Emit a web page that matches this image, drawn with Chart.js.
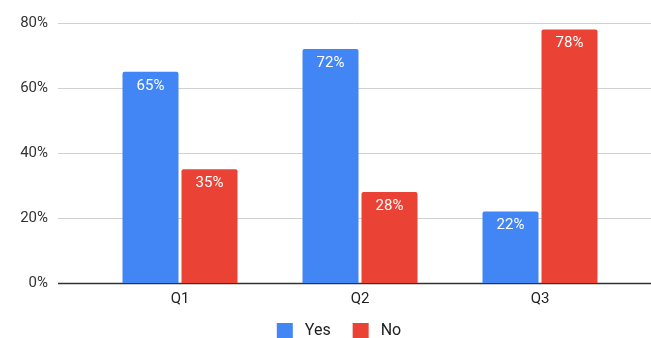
<!DOCTYPE html>
<html>
<head>
<meta charset="utf-8">
<script src="https://cdn.jsdelivr.net/npm/chart.js@4.4.0/dist/chart.umd.min.js"></script>
<style>
  body { margin: 0; background: #fff; }
</style>
</head>
<body>
<canvas id="myChart" width="651" height="338"></canvas>
<script>
'use strict';
const quarters = ['Q1', 'Q2', 'Q3'];
const yesValues = [65, 72, 22];
const noValues = [35, 28, 78];
const yTicks = [0, 20, 40, 60, 80];

// grid lines run wider than the bar area, so draw them by hand
const gridPlugin = {
    id: 'wideGrid',
    beforeDatasetsDraw(chart) {
        const ctx = chart.ctx;
        const y = chart.scales.y;
        ctx.save();
        yTicks.forEach(function (v) {
            const py = Math.round(y.getPixelForValue(v)) + 0.5;
            ctx.beginPath();
            ctx.strokeStyle = v === 0 ? '#333333' : '#d0d0d0';
            ctx.lineWidth = v === 0 ? 1.5 : 1;
            ctx.moveTo(58, py);
            ctx.lineTo(651, py);
            ctx.stroke();
        });
        ctx.restore();
    }
};

// white value labels near the top of each bar
const labelPlugin = {
    id: 'barLabels',
    afterDatasetsDraw(chart) {
        const ctx = chart.ctx;
        ctx.save();
        ctx.fillStyle = '#ffffff';
        ctx.font = '15px Roboto';
        ctx.textAlign = 'center';
        ctx.textBaseline = 'middle';
        chart.data.datasets.forEach(function (ds, i) {
            chart.getDatasetMeta(i).data.forEach(function (bar, j) {
                ctx.fillText(ds.data[j] + '%', bar.x, bar.y + 14);
            });
        });
        ctx.restore();
    }
};

// legend at the bottom, spaced like the sheets one
const legendPlugin = {
    id: 'bottomLegend',
    afterDraw(chart) {
        const ctx = chart.ctx;
        const box = 16, gap = 12, spacing = 22;
        ctx.save();
        ctx.font = '16px Roboto';
        ctx.textBaseline = 'middle';
        const items = chart.data.datasets.map(function (ds) {
            return { text: ds.label, color: ds.backgroundColor, w: ctx.measureText(ds.label).width };
        });
        let total = 0;
        items.forEach(function (it, i) {
            total += box + gap + it.w + (i > 0 ? spacing : 0);
        });
        let x = 339 - total / 2;
        const yMid = 331;
        items.forEach(function (it) {
            ctx.fillStyle = it.color;
            ctx.fillRect(x, yMid - box / 2, box, box);
            ctx.fillStyle = '#222222';
            ctx.fillText(it.text, x + box + gap, yMid);
            x += box + gap + it.w + spacing;
        });
        ctx.restore();
    }
};

const data = {
    labels: quarters,
    datasets: [{
        label: 'Yes',
        data: yesValues,
        backgroundColor: '#4285f4',
        borderRadius: { topLeft: 2, topRight: 2 },
        borderSkipped: 'bottom'
    }, {
        label: 'No',
        data: noValues,
        backgroundColor: '#ea4335',
        borderRadius: { topLeft: 2, topRight: 2 },
        borderSkipped: 'bottom'
    }]
};

const config = {
    type: 'bar',
    data: data,
    options: {
        responsive: false,
        animation: false,
        categoryPercentage: 118 / 180,
        barPercentage: 56 / 59,
        layout: { padding: { top: 23, right: 21, left: 0, bottom: 25 } },
        plugins: {
            tooltip: { enabled: false },
            legend: { display: false }
        },
        scales: {
            x: {
                grid: { display: false, drawTicks: false },
                border: { display: false },
                afterFit: function (s) { s.height = 30; },
                ticks: { color: '#222222', font: { family: 'Roboto', size: 15 }, padding: 7 }
            },
            y: {
                min: 0,
                max: 80,
                grid: { display: false, drawTicks: false },
                border: { display: false },
                afterFit: function (s) {
                    s.width = 90;
                    s.paddingTop = 0;
                    s.paddingBottom = 0;
                },
                ticks: {
                    stepSize: 20,
                    color: '#333333',
                    padding: 42,
                    font: { family: 'Roboto', size: 15 },
                    callback: function (v) { return v + '%'; }
                }
            }
        }
    },
    plugins: [gridPlugin, labelPlugin, legendPlugin]
};

const myChart = new Chart(document.getElementById('myChart'), config);
</script>
</body>
</html>
